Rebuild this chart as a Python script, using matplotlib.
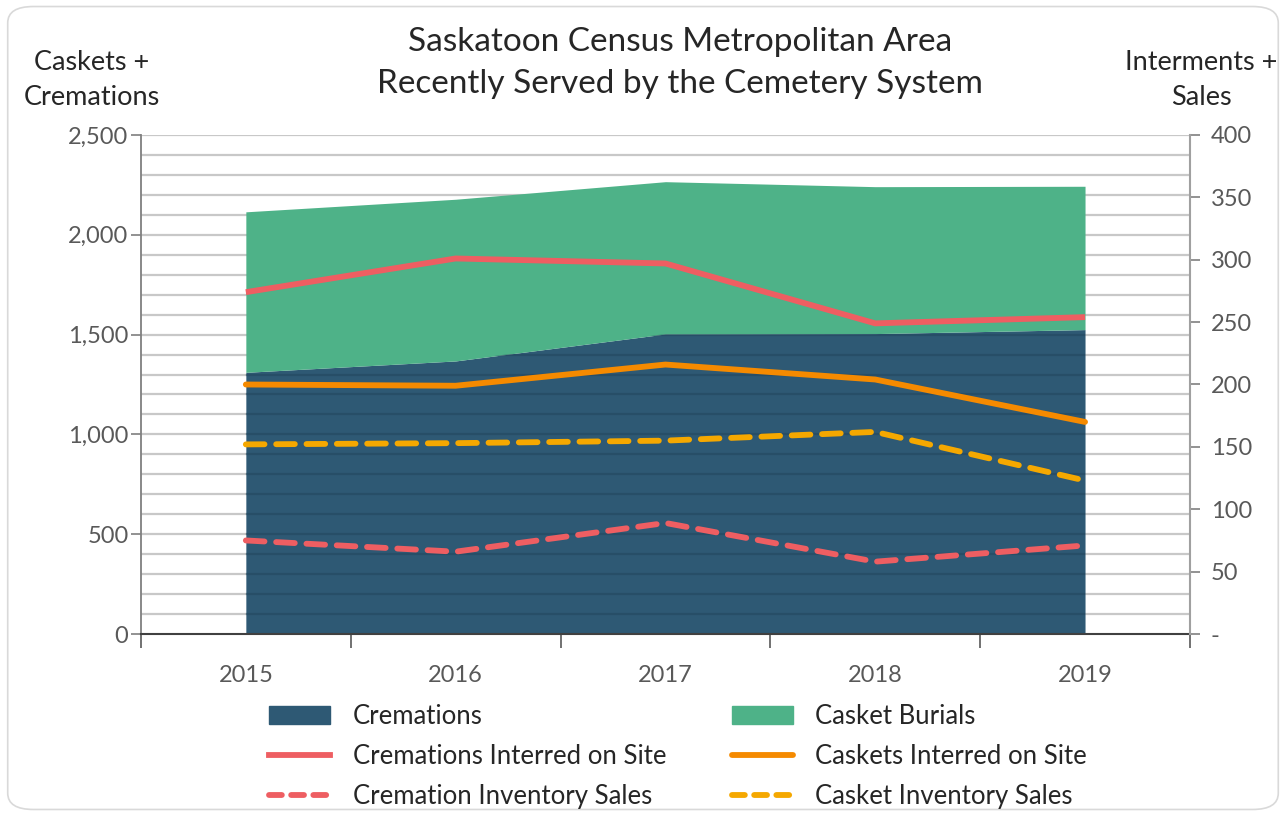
import numpy as np
import matplotlib.pyplot as plt
from matplotlib.patches import Patch, FancyBboxPatch
from matplotlib.lines import Line2D

plt.rcParams['font.family'] = ['Lato', 'DejaVu Sans']

years = ['2015', '2016', '2017', '2018', '2019']
cremations = [1311, 1368, 1503, 1505, 1525]
casket_burials = [804, 810, 763, 736, 718]

cremations_interred = [274, 301, 297, 249, 254]
caskets_interred = [200, 199, 216, 204, 170]
cremation_inventory = [75, 66, 89, 58, 71]
casket_inventory = [152, 153, 155, 162, 123]

left_ticks = [0, 500, 1000, 1500, 2000, 2500]
right_ticks = [0, 50, 100, 150, 200, 250, 300, 350, 400]

c_dark = '#2E5974'
c_green = '#4EB288'
c_red = '#EE5E62'
c_orange = '#F58A00'
c_yellow = '#F5A800'
c_text = '#595959'

fig = plt.figure(figsize=(12.86, 8.16), dpi=100)
fig.patches.append(FancyBboxPatch((0.006, 0.008), 0.988, 0.984, boxstyle='round,pad=0,rounding_size=0.02',
                                  transform=fig.transFigure, fc='white', ec='#D9D9D9', lw=1.2, zorder=-5))

ax = fig.add_axes([0.1096, 0.223, 0.8157, 0.6116])
ax.set_facecolor('none')
x = np.arange(len(years))

# grid every 100 on the left scale
for g in np.arange(100, 2501, 100):
    ax.axhline(g, color='#C8C8C8', lw=1.6, zorder=0)

top = np.array(cremations) + np.array(casket_burials)
poly = ax.fill_between(x, 0, cremations, color=c_dark, lw=0, zorder=1)
ax.fill_between(x, cremations, top, color=c_green, lw=0, zorder=1)

# darker grid lines showing through the cremations area
for g in np.arange(100, 2501, 100):
    ln = ax.axhline(g, color='#1E3F55', lw=1.6, alpha=0.4, zorder=1.5)
    ln.set_clip_path(poly.get_paths()[0], ax.transData)

ax.set_xlim(-0.5, len(years) - 0.5)
ax.set_ylim(0, 2500)
ax.set_yticks(left_ticks)
ax.set_yticklabels([f'{v:,}' for v in left_ticks])
ax.set_xticks(np.arange(-0.5, len(years), 1))
ax.set_xticklabels([])
ax.set_xticks(x, minor=True)
ax.set_xticklabels(years, minor=True)
ax.tick_params(axis='x', which='major', length=10, width=1.2, color='#595959')
ax.tick_params(axis='x', which='minor', length=0, pad=22, labelsize=17, labelcolor=c_text)
ax.tick_params(axis='y', length=7, width=1.2, color='#7F7F7F', labelsize=17, labelcolor=c_text, pad=2)
for s in ['top', 'right']:
    ax.spines[s].set_visible(False)
ax.spines['left'].set_color('#7F7F7F')
ax.spines['left'].set_linewidth(1.3)
ax.spines['bottom'].set_color('#404040')
ax.spines['bottom'].set_linewidth(1.5)

ax2 = ax.twinx()
ax2.set_ylim(0, 400)
ax2.set_yticks(right_ticks)
ax2.set_yticklabels(['-'] + [str(v) for v in right_ticks[1:]])
ax2.tick_params(axis='y', length=7, width=1.2, color='#7F7F7F', labelsize=17, labelcolor=c_text, pad=8)
for s in ['top', 'left', 'bottom']:
    ax2.spines[s].set_visible(False)
ax2.spines['right'].set_color('#A0A0A0')
ax2.spines['right'].set_linewidth(1.5)

lw = 4.2
dash = (3.2, 2.0)
ax2.plot(x, cremations_interred, color=c_red, lw=lw, solid_capstyle='butt', zorder=3)
ax2.plot(x, caskets_interred, color=c_orange, lw=lw, solid_capstyle='round', zorder=3)
ax2.plot(x, cremation_inventory, color=c_red, lw=lw, ls=(0, dash), dash_capstyle='round', zorder=3)
ax2.plot(x, casket_inventory, color=c_yellow, lw=lw, ls=(0, dash), dash_capstyle='round', zorder=3)

fig.text(0.529, 0.9225, 'Saskatoon Census Metropolitan Area\nRecently Served by the Cemetery System',
         ha='center', va='center', fontsize=24, color='#262626', linespacing=1.5)
fig.text(0.0715, 0.902, 'Caskets +\nCremations', ha='center', va='center', fontsize=19.5,
         color='#262626', linespacing=1.47)
fig.text(0.934, 0.902, 'Interments +\nSales', ha='center', va='center', fontsize=19.5,
         color='#262626', linespacing=1.47)

handles = [
    Patch(color=c_dark, label='Cremations'),
    Line2D([], [], color=c_red, lw=lw, label='Cremations Interred on Site'),
    Line2D([], [], color=c_red, lw=lw, ls=(0, (2.2, 1.6)), dash_capstyle='round', label='Cremation Inventory Sales'),
    Patch(color=c_green, label='Casket Burials'),
    Line2D([], [], color=c_orange, lw=lw, solid_capstyle='round', label='Caskets Interred on Site'),
    Line2D([], [], color=c_yellow, lw=lw, ls=(0, (2.2, 1.6)), dash_capstyle='round', label='Casket Inventory Sales'),
]
fig.legend(handles=handles, ncol=2, loc='upper left', bbox_to_anchor=(0.201, 0.150), frameon=False,
           fontsize=18.5, handlelength=2.4, handleheight=0.7, columnspacing=2.55, labelspacing=0.59,
           handletextpad=0.86, labelcolor='#262626', borderaxespad=0)

fig.savefig('out.png', dpi=100)
